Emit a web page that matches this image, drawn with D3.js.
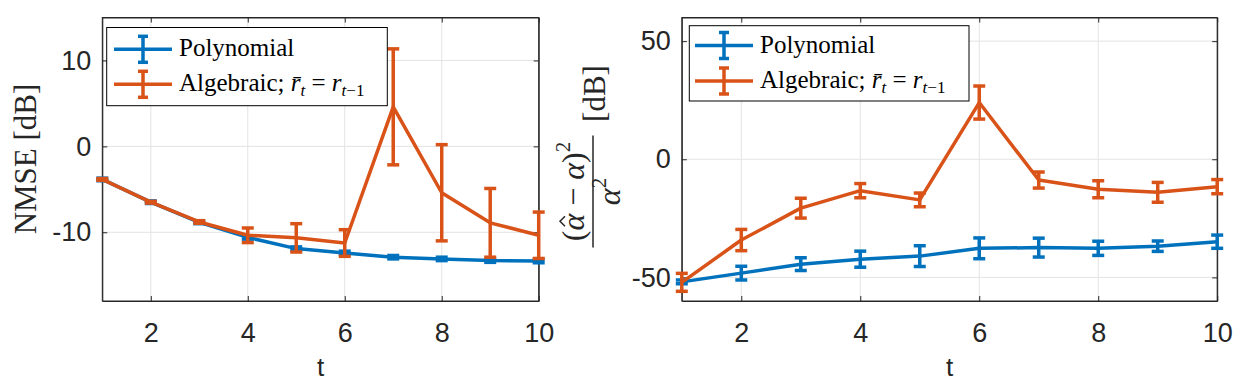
<!DOCTYPE html>
<html><head><meta charset="utf-8">
<script src="https://cdn.jsdelivr.net/npm/d3@7/dist/d3.min.js"></script>
<style>body{margin:0;background:#fff}svg{display:block}</style>
</head><body>
<svg id="c" width="1243" height="382"></svg>
<script>
const tVals = [1,2,3,4,5,6,7,8,9,10];
// Left panel: NMSE [dB]
const nmsePoly = [-3.85,-6.5,-8.85,-10.6,-11.9,-12.4,-12.9,-13.1,-13.3,-13.35];
const nmsePolyErr = [0.15,0.15,0.15,0.2,0.2,0.2,0.2,0.2,0.2,0.2];
const nmseAlg = [-3.85,-6.5,-8.8,-10.35,-10.65,-11.25,4.6,-5.4,-8.9,-10.35];
const nmseAlgErr = [0.1,0.1,0.15,0.85,1.65,1.55,6.75,5.6,4.0,2.7];
// Right panel: (alpha_hat - alpha)^2 / alpha^2 [dB]
const relPoly = [-51.9,-48.2,-44.4,-42.3,-41.0,-37.7,-37.4,-37.7,-36.8,-34.9];
const relPolyErr = [0.8,2.9,2.7,3.4,4.4,4.4,4.0,3.0,2.2,2.8];
const relAlg = [-52.1,-34.2,-20.7,-13.3,-17.2,24.0,-8.8,-12.7,-14.0,-11.6];
const relAlgErr = [3.8,4.5,4.2,3.0,2.9,7.0,3.4,3.6,4.2,3.0];
const xTicks = [2,4,6,8,10];
const leftYTicks = [-10,0,10];
const rightYTicks = [-50,0,50];
const legendNames = ["Polynomial","Algebraic"];

const BLUE = "#0072BD", ORANGE = "#D95319", AX = "#262626", GRID = "#e3e3e3";
const SANS = "'Liberation Sans', Arial, Helvetica, sans-serif";
const SERIF = "'Liberation Serif', 'Times New Roman', serif";
const svg = d3.select("#c");

function panel(cfg){
  const g = svg.append("g");
  const x = d3.scaleLinear().domain([1,10]).range([cfg.x0, cfg.x1]);
  const y = d3.scaleLinear().domain(cfg.yDom).range([301, 17.5]);
  // grid
  g.selectAll(".gx").data(xTicks).join("line")
    .attr("x1", d=>x(d)).attr("x2", d=>x(d)).attr("y1", y.range()[0]).attr("y2", y.range()[1])
    .attr("stroke", GRID).attr("stroke-width", 1);
  g.selectAll(".gy").data(cfg.yTicks).join("line")
    .attr("x1", cfg.x0).attr("x2", cfg.x1).attr("y1", d=>y(d)).attr("y2", d=>y(d))
    .attr("stroke", GRID).attr("stroke-width", 1);
  // axes
  const fmt = d => String(d);
  const xa = g.append("g").attr("transform", `translate(0,301)`)
    .call(d3.axisBottom(x).tickValues(xTicks).tickFormat(fmt).tickSizeInner(-5).tickSizeOuter(0).tickPadding(22));
  const xt = g.append("g").attr("transform", `translate(0,17.5)`)
    .call(d3.axisTop(x).tickValues(xTicks).tickFormat("").tickSizeInner(-5).tickSizeOuter(0));
  const ya = g.append("g").attr("transform", `translate(${cfg.x0},0)`)
    .call(d3.axisLeft(y).tickValues(cfg.yTicks).tickFormat(fmt).tickSizeInner(-5).tickSizeOuter(0).tickPadding(cfg.yPad));
  const yr = g.append("g").attr("transform", `translate(${cfg.x1},0)`)
    .call(d3.axisRight(y).tickValues(cfg.yTicks).tickFormat("").tickSizeInner(-5).tickSizeOuter(0));
  [xa,xt,ya,yr].forEach(a=>{
    a.selectAll("path").attr("stroke", AX);
    a.selectAll("line").attr("stroke", AX);
    a.selectAll("text").attr("fill", AX).style("font-family",SANS).style("font-size","27px");
  });
  g.append("rect").attr("x", cfg.x0).attr("y", 17.5).attr("width", cfg.x1-cfg.x0).attr("height", 301-17.5)
    .attr("fill","none").attr("stroke", AX).attr("stroke-width",1);
  // series
  const series = [
    {v: cfg.poly, e: cfg.polyErr, c: BLUE},
    {v: cfg.alg, e: cfg.algErr, c: ORANGE}
  ];
  const line = d3.line().x((d,i)=>x(tVals[i])).y(d=>y(d));
  series.forEach(s=>{
    const sg = g.append("g");
    sg.append("path").datum(s.v).attr("d", line).attr("fill","none").attr("stroke", s.c)
      .attr("stroke-width", 3.5).attr("stroke-linejoin","round");
    const eb = sg.selectAll(".eb").data(s.v.map((v,i)=>({t:tVals[i], v, e:s.e[i]}))).join("g");
    eb.append("line").attr("x1", d=>x(d.t)).attr("x2", d=>x(d.t))
      .attr("y1", d=>y(d.v+d.e)).attr("y2", d=>y(d.v-d.e)).attr("stroke", s.c).attr("stroke-width", 3.5);
    [1,-1].forEach(sgn=>{
      eb.append("line").attr("x1", d=>x(d.t)-6).attr("x2", d=>x(d.t)+6)
        .attr("y1", d=>y(d.v+sgn*d.e)).attr("y2", d=>y(d.v+sgn*d.e)).attr("stroke", s.c).attr("stroke-width", 3.5);
    });
  });
  // x label
  g.append("text").attr("x", (cfg.x0+cfg.x1)/2).attr("y", 376).attr("text-anchor","middle")
    .attr("fill", AX).style("font-family",SANS).style("font-size","26px").text("t");
  // legend
  const L = cfg.leg;
  const lg = g.append("g");
  lg.append("rect").attr("x", L.x).attr("y", L.y).attr("width", L.w).attr("height", L.h)
    .attr("fill","#fff").attr("stroke","#000").attr("stroke-width",1);
  const rows = [{c:BLUE, cy:L.r1}, {c:ORANGE, cy:L.r2}];
  rows.forEach((r,i)=>{
    lg.append("line").attr("x1", L.lx).attr("x2", L.lx+58).attr("y1", r.cy).attr("y2", r.cy)
      .attr("stroke", r.c).attr("stroke-width", 3.5);
    lg.append("line").attr("x1", L.lx+29).attr("x2", L.lx+29).attr("y1", r.cy-13).attr("y2", r.cy+13)
      .attr("stroke", r.c).attr("stroke-width", 3.5);
    [-13,13].forEach(o=>lg.append("line").attr("x1", L.lx+24).attr("x2", L.lx+34).attr("y1", r.cy+o).attr("y2", r.cy+o)
      .attr("stroke", r.c).attr("stroke-width", 3.5));
    const tx = lg.append("text").attr("x", L.lx+65).attr("y", r.cy+7).attr("fill","#000")
      .style("font-family",SERIF).style("font-size","25px");
    if(i===0){ tx.text(legendNames[0]); }
    else {
      tx.append("tspan").text(legendNames[1]+"; ");
      tx.append("tspan").style("font-style","italic").text("r\u0304");
      tx.append("tspan").style("font-style","italic").style("font-size","17px").attr("dy",5).text("t");
      tx.append("tspan").attr("dy",-5).text(" = ");
      tx.append("tspan").style("font-style","italic").text("r");
      tx.append("tspan").style("font-size","17px").attr("dy",5).style("font-style","italic").text("t");
      tx.append("tspan").style("font-size","17px").text("\u22121");
    }
  });
  return g;
}

panel({x0:102.3, x1:538.7, yDom:[-18,15], yTicks:leftYTicks, yPad:11,
  poly:nmsePoly, polyErr:nmsePolyErr, alg:nmseAlg, algErr:nmseAlgErr,
  leg:{x:106.7, y:27.5, w:280.6, h:78.2, r1:49.3, r2:84.3, lx:114}});
panel({x0:681.8, x1:1217.2, yDom:[-60,60], yTicks:rightYTicks, yPad:11,
  poly:relPoly, polyErr:relPolyErr, alg:relAlg, algErr:relAlgErr,
  leg:{x:689.3, y:25.7, w:279.7, h:75.3, r1:45.5, r2:81, lx:695}});

// left y label
svg.append("text").attr("transform","translate(36,159) rotate(-90)").attr("text-anchor","middle")
  .attr("fill",AX).style("font-family",SERIF).style("font-size","31px")
  .text("NMSE [dB]");

// right y label (fraction)
const fr = svg.append("g").attr("transform","translate(593,191.5) rotate(-90)");
const num = fr.append("text").attr("x",0).attr("y",-9).attr("text-anchor","middle").attr("fill",AX)
  .style("font-family",SERIF).style("font-size","32px");
num.append("tspan").text("(");
num.append("tspan").style("font-style","italic").text("\u03B1");
num.append("tspan").text(" \u2212 ");
num.append("tspan").style("font-style","italic").text("\u03B1");
num.append("tspan").text(")");
num.append("tspan").style("font-size","21px").attr("dy",-14).text("2");
// hat over first alpha
try {
  const ex = num.node().getExtentOfChar(1);
  const cx = ex.x + ex.width/2 + 1;
  fr.append("path").attr("d", `M${cx-5},-28 L${cx},-33 L${cx+5},-28`).attr("fill","none")
    .attr("stroke",AX).attr("stroke-width",1.5);
} catch(e) {}
fr.append("line").attr("x1",-56).attr("x2",56).attr("y1",0).attr("y2",0).attr("stroke",AX).attr("stroke-width",1.5);
const den = fr.append("text").attr("x",0).attr("y",27).attr("text-anchor","middle").attr("fill",AX)
  .style("font-family",SERIF).style("font-size","32px");
den.append("tspan").style("font-style","italic").text("\u03B1");
den.append("tspan").style("font-size","21px").attr("dy",-14).text("2");
fr.append("text").attr("x",98).attr("y",12).attr("text-anchor","middle").attr("fill",AX)
  .style("font-family",SERIF).style("font-size","31px").text("[dB]");
</script>
</body></html>
